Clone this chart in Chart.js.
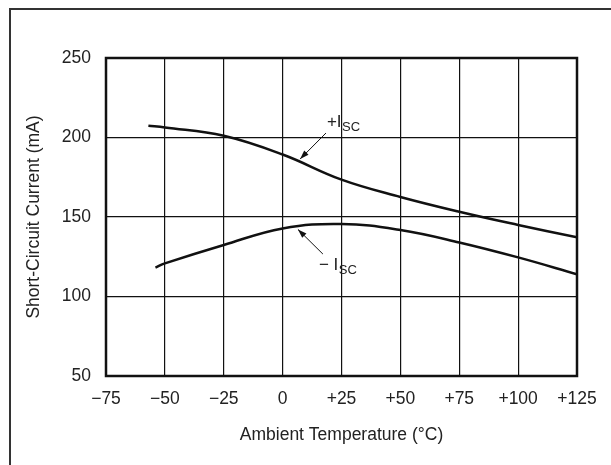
<!DOCTYPE html>
<html>
<head>
<meta charset="utf-8">
<script src="https://cdn.jsdelivr.net/npm/chart.js@4.4.1/dist/chart.umd.min.js"></script>
<style>
  html, body { margin: 0; padding: 0; background: #fff; }
  #wrap { width: 611px; height: 465px; }
</style>
</head>
<body>
<div id="wrap"><canvas id="iscChart" width="611" height="465"></canvas></div>
<script>
// short-circuit current vs ambient temperature
const tempPlus  = [-57, -50, -25, 0, 25, 50, 75, 100, 125];
const iscPlus   = [207.4, 206.3, 201.1, 189.3, 173.5, 162.6, 153.3, 145, 137.2];
const tempMinus = [-54, -50, -25, 0, 25, 50, 75, 100, 125];
const iscMinus  = [118.2, 120.8, 132.4, 142.8, 145.6, 141.8, 134, 124.6, 114];

const xTicks = [-75, -50, -25, 0, 25, 50, 75, 100, 125];
const xTickLabels = ['\u221275', '\u221250', '\u221225', '0', '+25', '+50', '+75', '+100', '+125'];
const yTicks = [50, 100, 150, 200, 250];

// curve labels with pointer arrows (data units)
const curveNotes = [
  { sign: '+', at: [18.8, 206.5], from: [18.4, 202.8], to: [7.4, 186.4] },
  { sign: '\u2212 ', at: [15.4, 116.6], from: [17.1, 126.7], to: [6.5, 142.2] }
];

const FONT = '"Liberation Sans", Arial, sans-serif';
const INK = '#111';
const TEXT = '#222';
const SIZE = 17.5;

function toPoints(xs, ys) {
  return xs.map((x, i) => ({ x: x, y: ys[i] }));
}

const decorations = {
  id: 'decorations',
  beforeDraw(chart) {
    const ctx = chart.ctx;
    ctx.save();
    ctx.strokeStyle = '#333';
    ctx.lineWidth = 2;
    ctx.beginPath();
    ctx.moveTo(10, chart.height + 5);
    ctx.lineTo(10, 9);
    ctx.lineTo(chart.width + 5, 9);
    ctx.stroke();
    ctx.restore();
  },
  afterDraw(chart) {
    const ctx = chart.ctx;
    const a = chart.chartArea;
    const xs = chart.scales.x, ys = chart.scales.y;
    ctx.save();
    // plot frame
    ctx.strokeStyle = INK;
    ctx.lineWidth = 2.5;
    ctx.strokeRect(a.left, a.top, a.right - a.left, a.bottom - a.top);

    curveNotes.forEach(n => {
      const fx = xs.getPixelForValue(n.from[0]), fy = ys.getPixelForValue(n.from[1]);
      const tx = xs.getPixelForValue(n.to[0]), ty = ys.getPixelForValue(n.to[1]);
      ctx.strokeStyle = INK;
      ctx.fillStyle = INK;
      ctx.lineWidth = 1;
      ctx.beginPath();
      ctx.moveTo(fx, fy);
      ctx.lineTo(tx, ty);
      ctx.stroke();
      const ang = Math.atan2(ty - fy, tx - fx);
      const len = 9, half = 3;
      ctx.beginPath();
      ctx.moveTo(tx, ty);
      ctx.lineTo(tx - len * Math.cos(ang) + half * Math.sin(ang), ty - len * Math.sin(ang) - half * Math.cos(ang));
      ctx.lineTo(tx - len * Math.cos(ang) - half * Math.sin(ang), ty - len * Math.sin(ang) + half * Math.cos(ang));
      ctx.closePath();
      ctx.fill();

      // label: sign + I with SC subscript
      const lx = xs.getPixelForValue(n.at[0]), ly = ys.getPixelForValue(n.at[1]);
      ctx.fillStyle = TEXT;
      ctx.textBaseline = 'alphabetic';
      ctx.textAlign = 'left';
      ctx.font = '17px ' + FONT;
      const main = n.sign + 'I';
      ctx.fillText(main, lx, ly);
      const w = ctx.measureText(main).width;
      ctx.font = '13px ' + FONT;
      ctx.fillText('SC', lx + w + 0.5, ly + 4);
    });
    ctx.restore();
  }
};

const ctx = document.getElementById('iscChart').getContext('2d');
new Chart(ctx, {
  type: 'line',
  data: {
    datasets: [
      {
        label: '+ISC',
        data: toPoints(tempPlus, iscPlus),
        borderColor: INK,
        borderWidth: 2.5,
        pointRadius: 0,
        fill: false,
        tension: 0.4
      },
      {
        label: '-ISC',
        data: toPoints(tempMinus, iscMinus),
        borderColor: INK,
        borderWidth: 2.5,
        pointRadius: 0,
        fill: false,
        tension: 0.4
      }
    ]
  },
  options: {
    responsive: false,
    animation: false,
    devicePixelRatio: 1,
    layout: { padding: { left: 0, top: 58, right: 34, bottom: 0 } },
    plugins: {
      legend: { display: false },
      tooltip: { enabled: false }
    },
    scales: {
      x: {
        type: 'linear',
        min: -75,
        max: 125,
        afterBuildTicks: s => { s.ticks = xTicks.map(v => ({ value: v })); },
        afterFit: s => { s.height = 89; },
        ticks: {
          padding: 13,
          color: TEXT,
          font: { family: FONT, size: SIZE },
          maxRotation: 0,
          autoSkip: false,
          callback: (v) => xTickLabels[xTicks.indexOf(v)]
        },
        grid: { color: INK, lineWidth: 1.2, drawTicks: false },
        border: { display: false },
        title: {
          display: true,
          text: 'Ambient Temperature (\u00b0C)',
          color: TEXT,
          font: { family: FONT, size: SIZE },
          padding: { top: 0, bottom: 19 }
        }
      },
      y: {
        type: 'linear',
        min: 50,
        max: 250,
        afterBuildTicks: s => { s.ticks = yTicks.map(v => ({ value: v })); },
        afterFit: s => { s.width = 106; },
        ticks: {
          padding: 15,
          color: TEXT,
          font: { family: FONT, size: SIZE }
        },
        grid: { color: INK, lineWidth: 1.2, drawTicks: false },
        border: { display: false },
        title: {
          display: true,
          text: 'Short-Circuit Current (mA)',
          color: TEXT,
          font: { family: FONT, size: SIZE },
          padding: { top: 24, bottom: 0 }
        }
      }
    }
  },
  plugins: [decorations]
});
</script>
</body>
</html>
